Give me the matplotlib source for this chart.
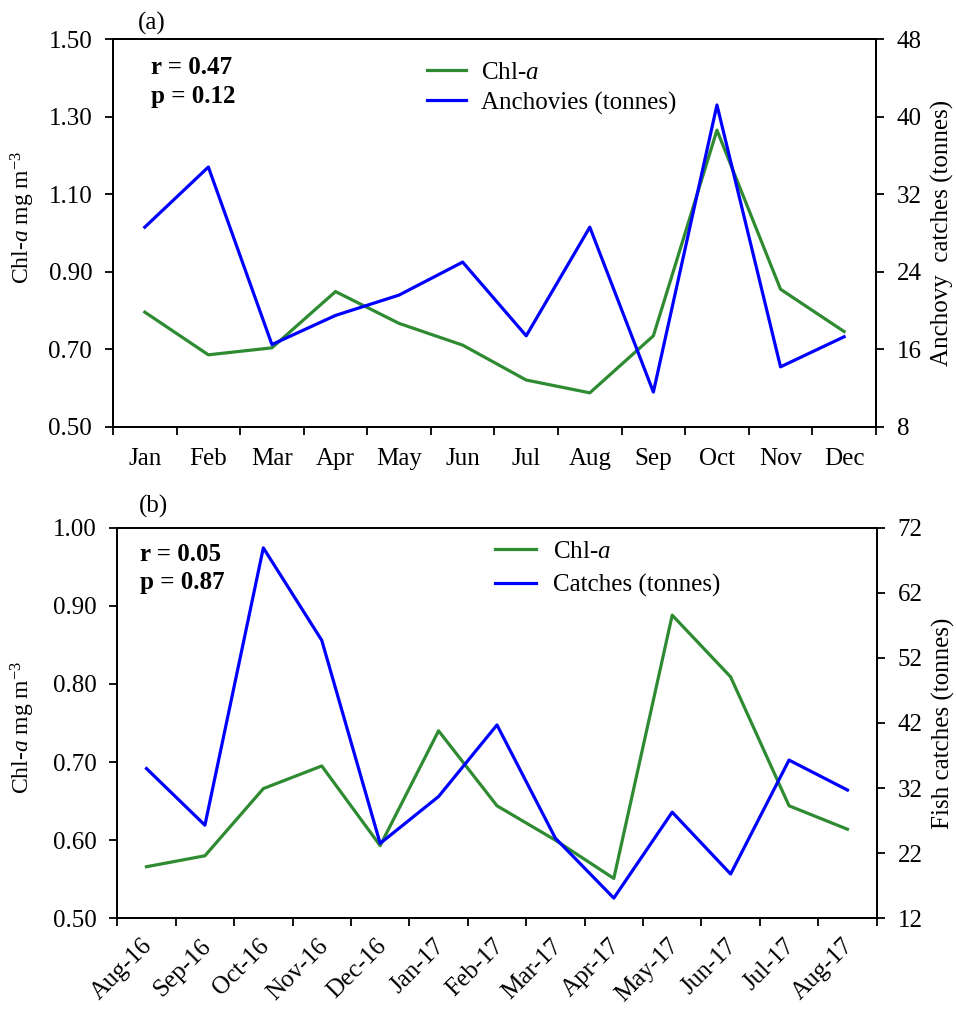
import numpy as np
import matplotlib
matplotlib.use("Agg")
import matplotlib.pyplot as plt
import matplotlib.transforms as mtransforms

plt.rcParams['font.family'] = ['Liberation Serif', 'DejaVu Serif']
plt.rcParams['mathtext.fontset'] = 'custom'
plt.rcParams['mathtext.rm'] = 'Liberation Serif'
plt.rcParams['mathtext.it'] = 'Liberation Serif:italic'
plt.rcParams['font.size'] = 18

# panel (a)
months_a = ['Jan', 'Feb', 'Mar', 'Apr', 'May', 'Jun', 'Jul', 'Aug', 'Sep', 'Oct', 'Nov', 'Dec']
chl_a = [0.796, 0.686, 0.704, 0.849, 0.767, 0.711, 0.621, 0.588, 0.735, 1.265, 0.855, 0.746]
anchovies = [28.6, 34.8, 16.5, 19.5, 21.6, 25.0, 17.4, 28.6, 11.6, 41.2, 14.2, 17.3]

# panel (b)
months_b = ['Aug-16', 'Sep-16', 'Oct-16', 'Nov-16', 'Dec-16', 'Jan-17', 'Feb-17',
            'Mar-17', 'Apr-17', 'May-17', 'Jun-17', 'Jul-17', 'Aug-17']
chl_b = [0.566, 0.580, 0.666, 0.695, 0.593, 0.740, 0.644, 0.600, 0.551, 0.888, 0.809, 0.644, 0.614]
catches = [35.0, 26.3, 68.9, 54.7, 23.5, 30.7, 41.7, 24.3, 15.1, 28.3, 18.8, 36.3, 31.7]

GREEN = '#2E8B32'
BLUE = '#0000FF'
LW = 2.3

fig = plt.figure(figsize=(9.56, 10.13), dpi=100)


def style_axes(ax, ax2, n, labels, rotate=False):
    for a in (ax, ax2):
        for s in a.spines.values():
            s.set_linewidth(1.3)
    ax.set_xlim(-0.5, n - 0.5)
    ax.set_xticks(np.arange(n + 1) - 0.5)
    ax.set_xticklabels([])
    ax.set_xticks(np.arange(n), minor=True)
    if rotate:
        ax.set_xticklabels(labels, minor=True, rotation=45, ha='right', rotation_mode='anchor')
    else:
        ax.set_xticklabels(labels, minor=True)
    ax.tick_params(axis='x', which='major', direction='out', length=6, width=1.3)
    ax.tick_params(axis='x', which='minor', length=0, pad=15)
    ax.tick_params(axis='y', direction='out', length=6, width=1.3, pad=9)
    ax2.tick_params(axis='y', direction='out', length=6, width=1.3, pad=9)


# ---- (a)
ax1 = fig.add_axes([0.1182, 0.5785, 0.798, 0.383])
ax1b = ax1.twinx()
x = np.arange(len(months_a))
l1, = ax1.plot(x, chl_a, color=GREEN, lw=LW, label='Chl-$\\mathit{a}$')
l2, = ax1b.plot(x, anchovies, color=BLUE, lw=LW, label='Anchovies (tonnes)')
ax1.set_ylim(0.5, 1.5)
ax1.set_yticks([0.5, 0.7, 0.9, 1.1, 1.3, 1.5])
ax1.set_yticklabels(['%.2f' % v for v in [0.5, 0.7, 0.9, 1.1, 1.3, 1.5]])
ax1b.set_ylim(8, 48)
ax1b.set_yticks([8, 16, 24, 32, 40, 48])
style_axes(ax1, ax1b, len(months_a), months_a)
ax1.set_ylabel('Chl-$\\mathit{a}$ mg m$^{-3}$', fontsize=17)
ax1.yaxis.set_label_coords(-0.100, 0.541)
ax1b.set_ylabel('Anchovy  catches (tonnes)')
ax1b.yaxis.set_label_coords(1.072, 0.5)
ax1.text(0.05, 0.955, 'r = 0.47\np = 0.12', transform=ax1.transAxes, fontweight='bold',
         va='top', ha='left', linespacing=1.3)
ax1.text(0.032, 1.01, '(a)', transform=ax1.transAxes, va='bottom', ha='left')
ax1.legend([l1, l2], [l1.get_label(), l2.get_label()], loc='upper left',
           bbox_to_anchor=(0.382, 1.0), frameon=False, handlelength=1.55,
           handletextpad=0.6, labelspacing=0.3)

# ---- (b)
ax2 = fig.add_axes([0.1227, 0.0935, 0.7943, 0.3856])
ax2b = ax2.twinx()
x = np.arange(len(months_b))
l3, = ax2.plot(x, chl_b, color=GREEN, lw=LW, label='Chl-$\\mathit{a}$')
l4, = ax2b.plot(x, catches, color=BLUE, lw=LW, label='Catches (tonnes)')
ax2.set_ylim(0.5, 1.0)
ax2.set_yticks([0.5, 0.6, 0.7, 0.8, 0.9, 1.0])
ax2.set_yticklabels(['%.2f' % v for v in [0.5, 0.6, 0.7, 0.8, 0.9, 1.0]])
ax2b.set_ylim(12, 72)
ax2b.set_yticks([12, 22, 32, 42, 52, 62, 72])
style_axes(ax2, ax2b, len(months_b), months_b, rotate=True)
ax2.tick_params(axis='x', which='minor', pad=12)
shift = mtransforms.ScaledTranslation(-5 / 100, 0, fig.dpi_scale_trans)
for lab in ax2.get_xticklabels(minor=True):
    lab.set_transform(lab.get_transform() + shift)
ax2.set_ylabel('Chl-$\\mathit{a}$ mg m$^{-3}$', fontsize=17)
ax2.yaxis.set_label_coords(-0.106, 0.49)
ax2b.set_ylabel('Fish catches (tonnes)')
ax2b.yaxis.set_label_coords(1.073, 0.5)
ax2.text(0.03, 0.96, 'r = 0.05\np = 0.87', transform=ax2.transAxes, fontweight='bold',
         va='top', ha='left', linespacing=1.25)
ax2.text(0.028, 1.025, '(b)', transform=ax2.transAxes, va='bottom', ha='left')
ax2.legend([l3, l4], [l3.get_label(), l4.get_label()], loc='upper left',
           bbox_to_anchor=(0.468, 1.025), frameon=False, handlelength=1.65,
           handletextpad=0.65, labelspacing=0.45)

fig.savefig('out.png', dpi=100)
